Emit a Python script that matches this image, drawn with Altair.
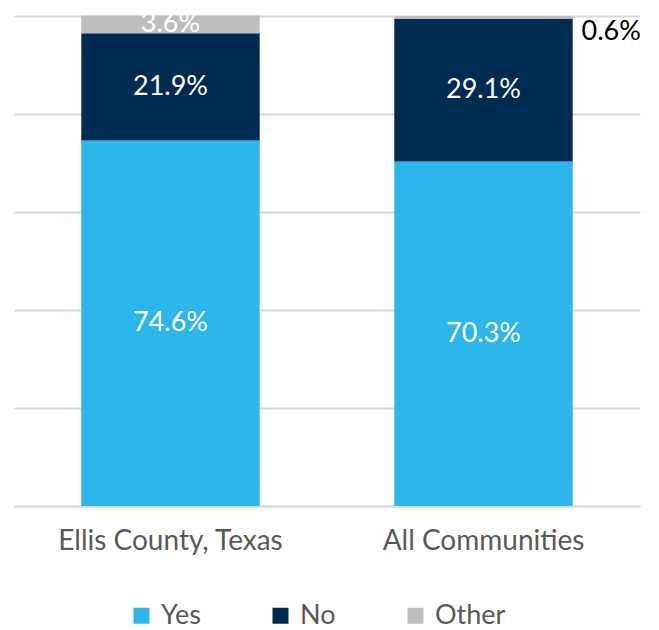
import altair as alt
import pandas as pd

communities = ["Ellis County, Texas", "All Communities"]
responses = ["Yes", "No", "Other"]
yes_vals = [74.6, 70.3]
no_vals = [21.9, 29.1]
other_vals = [3.6, 0.6]
colors = ["#2BB6EC", "#002B51", "#BFBEBF"]

rows = []
for i, c in enumerate(communities):
    for j, (r, v) in enumerate(zip(responses, [yes_vals[i], no_vals[i], other_vals[i]])):
        rows.append({"community": c, "response": r, "value": v, "ord": j,
                     "label": f"{v:.1f}%", "outside": 1 if v < 1 else 0})
df = pd.DataFrame(rows)

FONT = "Lato"

x_enc = alt.X("community:N", sort=communities, title=None,
              scale=alt.Scale(paddingInner=0.43, paddingOuter=0.215),
              axis=alt.Axis(labelAngle=0, ticks=False, domain=True, domainColor="#d9d9d9",
                            domainWidth=2, labelFontSize=28, labelColor="#595959",
                            labelFont=FONT, labelPadding=21, grid=False, labelLimit=0))

base = alt.Chart(df)

bars = base.mark_bar().encode(
    x=x_enc,
    y=alt.Y("value:Q", scale=alt.Scale(domain=[0, 100]), title=None,
            axis=alt.Axis(labels=False, ticks=False, domain=False, grid=True,
                          gridColor="#d9d9d9", gridWidth=2, values=[0, 20, 40, 60, 80, 100])),
    color=alt.Color("response:N", scale=alt.Scale(domain=responses, range=colors),
                    legend=alt.Legend(title=None, orient="none", direction="horizontal",
                                      legendX=114, legendY=586,
                                      symbolType="square", symbolSize=256, symbolStrokeWidth=0,
                                      labelFontSize=27, labelColor="#595959", labelFont=FONT,
                                      columnPadding=66, labelOffset=6, labelLimit=0)),
    order=alt.Order("ord:Q"),
)

stacked = base.transform_window(
    cum="sum(value)", groupby=["community"], sort=[alt.SortField("ord")]
).transform_calculate(mid="datum.cum - datum.value / 2")

inside = stacked.transform_filter("datum.outside == 0").mark_text(
    color="white", fontSize=27, font=FONT, baseline="middle"
).encode(x=alt.X("community:N", sort=communities), y=alt.Y("mid:Q"), text="label:N")

outside = stacked.transform_filter("datum.outside == 1").mark_text(
    color="black", fontSize=27, font=FONT, baseline="top", align="left", dx=98, dy=3
).encode(x=alt.X("community:N", sort=communities), y=alt.Y("cum:Q"), text="label:N")

chart = alt.layer(bars, inside, outside).properties(
    width=626, height=490,
    padding={"left": 6, "top": 2, "right": 5, "bottom": 0},
).configure_view(stroke=None)

chart.save("out.html", embed_options={"renderer": "svg", "actions": False})
